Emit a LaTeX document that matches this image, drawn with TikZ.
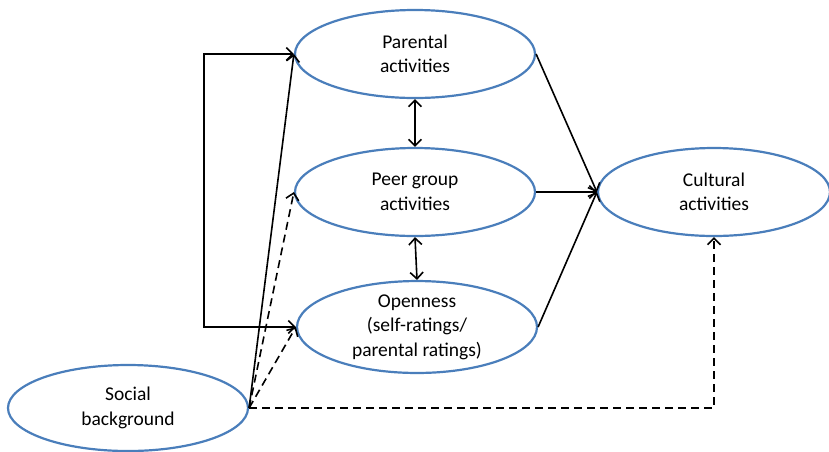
\documentclass[tikz,border=0pt]{standalone}
\usepackage{fontspec}
\setmainfont{Carlito}
\usetikzlibrary{shapes.geometric,arrows.meta}
\definecolor{ellblue}{RGB}{74,126,187}
\begin{document}
\begin{tikzpicture}[x=1pt,y=1pt,
  ell/.style={draw=ellblue,line width=2.2pt,ellipse,minimum width=240pt,minimum height=88pt,inner sep=0pt,align=center,font=\fontsize{19.5pt}{24.5pt}\selectfont},
  tip/.style={Straight Barb[length=6.5pt,width=13pt,line width=1.6pt]},
  conn/.style={line width=1.6pt,-{Straight Barb[length=6.5pt,width=13pt,line width=1.6pt]}},
  bconn/.style={line width=1.6pt,{Straight Barb[length=6.5pt,width=13pt,line width=1.6pt]}-{Straight Barb[length=6.5pt,width=13pt,line width=1.6pt]}},
  dconn/.style={conn,dash pattern=on 8pt off 5pt}]
\useasboundingbox (0,0) rectangle (829,-451);
\node[ell] (par) at (415,-54) {Parental\\activities};
\node[ell] (peer) at (415,-192) {Peer group\\activities};
\node[ell] (open) at (417,-327) {Openness\\(self-ratings/\\parental ratings)};
\node[ell,minimum width=232pt] (cult) at (714,-192) {Cultural\\activities};
\node[ell,minimum height=86pt] (soc) at (128,-408) {Social\\background};
\coordinate (bend) at (204,-54);
\draw[bconn] (par.west) -- (bend) |- (open.west);
\draw[bconn] (par.south) -- (peer.north);
\draw[bconn] (peer.south) -- (open.north);
\draw[conn] (soc.east) -- (par.west);
\draw[dconn] (soc.east) -- (peer.west);
\draw[dconn] (soc.east) -- (open.west);
\draw[dconn] (soc.east) -| (cult.south);
\draw[conn] (par.east) -- (cult.west);
\draw[conn] (peer.east) -- (cult.west);
\draw[conn] (open.east) -- (cult.west);
\end{tikzpicture}
\end{document}
